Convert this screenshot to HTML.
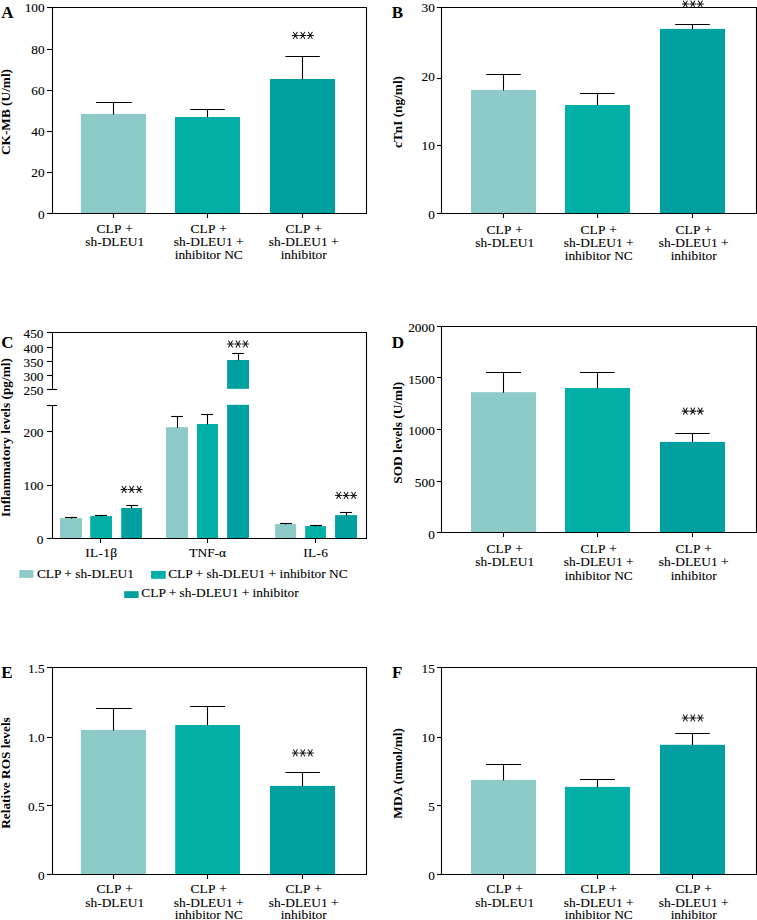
<!DOCTYPE html>
<html><head><meta charset="utf-8"><title>Figure</title>
<style>
html,body{margin:0;padding:0;background:#fff;}
svg{display:block;}
svg text{font-family:"Liberation Serif",serif;fill:#000;stroke:#000;stroke-width:0.12px;}
svg text[font-weight]{stroke:none;}
</style></head>
<body>
<svg width="757" height="920" viewBox="0 0 757 920">
<rect x="0" y="0" width="757" height="920" fill="#ffffff"/>
<rect x="81" y="114" width="65" height="99.5" fill="#8ccbc8"/>
<line x1="113.5" y1="102.5" x2="113.5" y2="114.5" stroke="#000" stroke-width="1.1"/>
<line x1="96" y1="102.5" x2="131.8" y2="102.5" stroke="#000" stroke-width="1.1"/>
<rect x="175" y="117" width="65" height="96.5" fill="#00b0a6"/>
<line x1="207.5" y1="109.5" x2="207.5" y2="117.5" stroke="#000" stroke-width="1.1"/>
<line x1="190.2" y1="109.5" x2="224.8" y2="109.5" stroke="#000" stroke-width="1.1"/>
<rect x="270" y="79" width="65" height="134.5" fill="#00a0a0"/>
<line x1="302.5" y1="56.5" x2="302.5" y2="79.5" stroke="#000" stroke-width="1.1"/>
<line x1="285.4" y1="56.5" x2="319.8" y2="56.5" stroke="#000" stroke-width="1.1"/>
<line x1="52.5" y1="7" x2="52.5" y2="214" stroke="#000" stroke-width="1.1"/>
<line x1="52.5" y1="7.5" x2="366.5" y2="7.5" stroke="#000" stroke-width="1.1"/>
<line x1="366.5" y1="7" x2="366.5" y2="214" stroke="#000" stroke-width="1.1"/>
<line x1="52.5" y1="213.5" x2="366.5" y2="213.5" stroke="#000" stroke-width="1.1"/>
<line x1="47" y1="7.5" x2="52.5" y2="7.5" stroke="#000" stroke-width="1.1"/>
<text x="44.6" y="12.2" font-size="13.3" text-anchor="end">100</text>
<line x1="47" y1="49.5" x2="52.5" y2="49.5" stroke="#000" stroke-width="1.1"/>
<text x="44.6" y="54" font-size="13.3" text-anchor="end">80</text>
<line x1="47" y1="90.5" x2="52.5" y2="90.5" stroke="#000" stroke-width="1.1"/>
<text x="44.6" y="95.1" font-size="13.3" text-anchor="end">60</text>
<line x1="47" y1="131.5" x2="52.5" y2="131.5" stroke="#000" stroke-width="1.1"/>
<text x="44.6" y="135.9" font-size="13.3" text-anchor="end">40</text>
<line x1="47" y1="172.5" x2="52.5" y2="172.5" stroke="#000" stroke-width="1.1"/>
<text x="44.6" y="177" font-size="13.3" text-anchor="end">20</text>
<line x1="47" y1="213.5" x2="52.5" y2="213.5" stroke="#000" stroke-width="1.1"/>
<text x="44.6" y="219.4" font-size="13.3" text-anchor="end">0</text>
<line x1="113.5" y1="213.5" x2="113.5" y2="218" stroke="#000" stroke-width="1.1"/>
<text x="114.7" y="233" font-size="13.4" text-anchor="middle" letter-spacing="0.15" word-spacing="0.6">CLP +</text>
<text x="114.7" y="245.9" font-size="13.4" text-anchor="middle">sh-DLEU1</text>
<line x1="207.5" y1="213.5" x2="207.5" y2="218" stroke="#000" stroke-width="1.1"/>
<text x="208.7" y="233" font-size="13.4" text-anchor="middle" letter-spacing="0.15" word-spacing="0.6">CLP +</text>
<text x="208.7" y="245.9" font-size="13.4" text-anchor="middle">sh-DLEU1 +</text>
<text x="208.7" y="259" font-size="13.4" text-anchor="middle">inhibitor NC</text>
<line x1="302.5" y1="213.5" x2="302.5" y2="218" stroke="#000" stroke-width="1.1"/>
<text x="303.7" y="233" font-size="13.4" text-anchor="middle" letter-spacing="0.15" word-spacing="0.6">CLP +</text>
<text x="303.7" y="245.9" font-size="13.4" text-anchor="middle">sh-DLEU1 +</text>
<text x="303.7" y="259" font-size="13.4" text-anchor="middle">inhibitor</text>
<path d="M292.20 35.40H298.40M293.40 32.30L297.20 38.50M297.20 32.30L293.40 38.50M299.70 35.40H305.90M300.90 32.30L304.70 38.50M304.70 32.30L300.90 38.50M307.20 35.40H313.40M308.40 32.30L312.20 38.50M312.20 32.30L308.40 38.50" stroke="#1a1a1a" stroke-width="1.05" fill="none" stroke-linecap="round"/>
<text x="1.2" y="17.7" font-size="17" text-anchor="start" font-weight="bold">A</text>
<text transform="translate(10.4,112) rotate(-90)" font-size="13.3" text-anchor="middle" font-weight="bold">CK-MB (U/ml)</text>
<rect x="471" y="90" width="65" height="123.5" fill="#8ccbc8"/>
<line x1="503.5" y1="74.5" x2="503.5" y2="90.5" stroke="#000" stroke-width="1.1"/>
<line x1="486.2" y1="74.5" x2="520.8" y2="74.5" stroke="#000" stroke-width="1.1"/>
<rect x="565" y="105" width="65" height="108.5" fill="#00b0a6"/>
<line x1="597.5" y1="93.5" x2="597.5" y2="105.5" stroke="#000" stroke-width="1.1"/>
<line x1="580" y1="93.5" x2="614.8" y2="93.5" stroke="#000" stroke-width="1.1"/>
<rect x="660" y="28.9" width="65" height="184.6" fill="#00a0a0"/>
<line x1="692.5" y1="24.5" x2="692.5" y2="29.4" stroke="#000" stroke-width="1.1"/>
<line x1="675.2" y1="24.5" x2="709.8" y2="24.5" stroke="#000" stroke-width="1.1"/>
<line x1="441.5" y1="7" x2="441.5" y2="214" stroke="#000" stroke-width="1.1"/>
<line x1="441.5" y1="7.5" x2="756.5" y2="7.5" stroke="#000" stroke-width="1.1"/>
<line x1="756.5" y1="7" x2="756.5" y2="214" stroke="#000" stroke-width="1.1"/>
<line x1="441.5" y1="213.5" x2="756.5" y2="213.5" stroke="#000" stroke-width="1.1"/>
<line x1="437" y1="7.5" x2="441.5" y2="7.5" stroke="#000" stroke-width="1.1"/>
<text x="434.8" y="12.1" font-size="13.3" text-anchor="end">30</text>
<line x1="437" y1="78.5" x2="441.5" y2="78.5" stroke="#000" stroke-width="1.1"/>
<text x="434.8" y="80.9" font-size="13.3" text-anchor="end">20</text>
<line x1="437" y1="145.5" x2="441.5" y2="145.5" stroke="#000" stroke-width="1.1"/>
<text x="434.8" y="149.9" font-size="13.3" text-anchor="end">10</text>
<line x1="437" y1="213.5" x2="441.5" y2="213.5" stroke="#000" stroke-width="1.1"/>
<text x="434.8" y="219.1" font-size="13.3" text-anchor="end">0</text>
<line x1="503.5" y1="213.5" x2="503.5" y2="218" stroke="#000" stroke-width="1.1"/>
<text x="504.7" y="234" font-size="13.4" text-anchor="middle" letter-spacing="0.15" word-spacing="0.6">CLP +</text>
<text x="504.7" y="247" font-size="13.4" text-anchor="middle">sh-DLEU1</text>
<line x1="597.5" y1="213.5" x2="597.5" y2="218" stroke="#000" stroke-width="1.1"/>
<text x="598.7" y="234" font-size="13.4" text-anchor="middle" letter-spacing="0.15" word-spacing="0.6">CLP +</text>
<text x="598.7" y="247" font-size="13.4" text-anchor="middle">sh-DLEU1 +</text>
<text x="598.7" y="260" font-size="13.4" text-anchor="middle">inhibitor NC</text>
<line x1="692.5" y1="213.5" x2="692.5" y2="218" stroke="#000" stroke-width="1.1"/>
<text x="693.7" y="234" font-size="13.4" text-anchor="middle" letter-spacing="0.15" word-spacing="0.6">CLP +</text>
<text x="693.7" y="247" font-size="13.4" text-anchor="middle">sh-DLEU1 +</text>
<text x="693.7" y="260" font-size="13.4" text-anchor="middle">inhibitor</text>
<path d="M682.20 4.00H688.40M683.40 0.90L687.20 7.10M687.20 0.90L683.40 7.10M689.70 4.00H695.90M690.90 0.90L694.70 7.10M694.70 0.90L690.90 7.10M697.20 4.00H703.40M698.40 0.90L702.20 7.10M702.20 0.90L698.40 7.10" stroke="#1a1a1a" stroke-width="1.05" fill="none" stroke-linecap="round"/>
<text x="391.8" y="17.7" font-size="17" text-anchor="start" font-weight="bold">B</text>
<text transform="translate(401.5,112) rotate(-90)" font-size="13.3" text-anchor="middle" font-weight="bold">cTnI (ng/ml)</text>
<rect x="471" y="392.2" width="65" height="140.3" fill="#8ccbc8"/>
<line x1="503.5" y1="372.5" x2="503.5" y2="392.7" stroke="#000" stroke-width="1.1"/>
<line x1="486" y1="372.5" x2="521" y2="372.5" stroke="#000" stroke-width="1.1"/>
<rect x="565" y="388" width="65" height="144.5" fill="#00b0a6"/>
<line x1="597.5" y1="372.5" x2="597.5" y2="388.5" stroke="#000" stroke-width="1.1"/>
<line x1="580" y1="372.5" x2="614.8" y2="372.5" stroke="#000" stroke-width="1.1"/>
<rect x="660" y="441.9" width="65" height="90.6" fill="#00a0a0"/>
<line x1="692.5" y1="433.5" x2="692.5" y2="442.4" stroke="#000" stroke-width="1.1"/>
<line x1="675.2" y1="433.5" x2="709.8" y2="433.5" stroke="#000" stroke-width="1.1"/>
<line x1="441.5" y1="326" x2="441.5" y2="533" stroke="#000" stroke-width="1.1"/>
<line x1="441.5" y1="326.5" x2="756.5" y2="326.5" stroke="#000" stroke-width="1.1"/>
<line x1="756.5" y1="326" x2="756.5" y2="533" stroke="#000" stroke-width="1.1"/>
<line x1="441.5" y1="532.5" x2="756.5" y2="532.5" stroke="#000" stroke-width="1.1"/>
<line x1="437" y1="326.5" x2="441.5" y2="326.5" stroke="#000" stroke-width="1.1"/>
<text x="434.8" y="332" font-size="13.3" text-anchor="end">2000</text>
<line x1="437" y1="377.5" x2="441.5" y2="377.5" stroke="#000" stroke-width="1.1"/>
<text x="434.8" y="384.1" font-size="13.3" text-anchor="end">1500</text>
<line x1="437" y1="429.5" x2="441.5" y2="429.5" stroke="#000" stroke-width="1.1"/>
<text x="434.8" y="435.1" font-size="13.3" text-anchor="end">1000</text>
<line x1="437" y1="481.5" x2="441.5" y2="481.5" stroke="#000" stroke-width="1.1"/>
<text x="434.8" y="487.2" font-size="13.3" text-anchor="end">500</text>
<line x1="437" y1="532.5" x2="441.5" y2="532.5" stroke="#000" stroke-width="1.1"/>
<text x="434.8" y="538.8" font-size="13.3" text-anchor="end">0</text>
<line x1="503.5" y1="532.5" x2="503.5" y2="537" stroke="#000" stroke-width="1.1"/>
<text x="504.7" y="552.6" font-size="13.4" text-anchor="middle" letter-spacing="0.15" word-spacing="0.6">CLP +</text>
<text x="504.7" y="566" font-size="13.4" text-anchor="middle">sh-DLEU1</text>
<line x1="597.5" y1="532.5" x2="597.5" y2="537" stroke="#000" stroke-width="1.1"/>
<text x="598.7" y="552.6" font-size="13.4" text-anchor="middle" letter-spacing="0.15" word-spacing="0.6">CLP +</text>
<text x="598.7" y="566" font-size="13.4" text-anchor="middle">sh-DLEU1 +</text>
<text x="598.7" y="579.9" font-size="13.4" text-anchor="middle">inhibitor NC</text>
<line x1="692.5" y1="532.5" x2="692.5" y2="537" stroke="#000" stroke-width="1.1"/>
<text x="693.7" y="552.6" font-size="13.4" text-anchor="middle" letter-spacing="0.15" word-spacing="0.6">CLP +</text>
<text x="693.7" y="566" font-size="13.4" text-anchor="middle">sh-DLEU1 +</text>
<text x="693.7" y="579.9" font-size="13.4" text-anchor="middle">inhibitor</text>
<path d="M682.20 411.10H688.40M683.40 408.00L687.20 414.20M687.20 408.00L683.40 414.20M689.70 411.10H695.90M690.90 408.00L694.70 414.20M694.70 408.00L690.90 414.20M697.20 411.10H703.40M698.40 408.00L702.20 414.20M702.20 408.00L698.40 414.20" stroke="#1a1a1a" stroke-width="1.05" fill="none" stroke-linecap="round"/>
<text x="391.8" y="347.5" font-size="17" text-anchor="start" font-weight="bold">D</text>
<text transform="translate(401.5,432.7) rotate(-90)" font-size="13.3" text-anchor="middle" font-weight="bold">SOD levels (U/ml)</text>
<rect x="81" y="730" width="65" height="144.5" fill="#8ccbc8"/>
<line x1="113.5" y1="708.5" x2="113.5" y2="730.5" stroke="#000" stroke-width="1.1"/>
<line x1="96.2" y1="708.5" x2="131.8" y2="708.5" stroke="#000" stroke-width="1.1"/>
<rect x="175.2" y="725" width="64.8" height="149.5" fill="#00b0a6"/>
<line x1="207.5" y1="706.5" x2="207.5" y2="725.5" stroke="#000" stroke-width="1.1"/>
<line x1="190" y1="706.5" x2="225" y2="706.5" stroke="#000" stroke-width="1.1"/>
<rect x="270" y="785.9" width="65" height="88.6" fill="#00a0a0"/>
<line x1="302.5" y1="772.5" x2="302.5" y2="786.4" stroke="#000" stroke-width="1.1"/>
<line x1="285.4" y1="772.5" x2="319.8" y2="772.5" stroke="#000" stroke-width="1.1"/>
<line x1="52.5" y1="667" x2="52.5" y2="875" stroke="#000" stroke-width="1.1"/>
<line x1="52.5" y1="667.5" x2="366.5" y2="667.5" stroke="#000" stroke-width="1.1"/>
<line x1="366.5" y1="667" x2="366.5" y2="875" stroke="#000" stroke-width="1.1"/>
<line x1="52.5" y1="874.5" x2="366.5" y2="874.5" stroke="#000" stroke-width="1.1"/>
<line x1="47" y1="667.5" x2="52.5" y2="667.5" stroke="#000" stroke-width="1.1"/>
<text x="44.6" y="672.8" font-size="13.3" text-anchor="end">1.5</text>
<line x1="47" y1="737.5" x2="52.5" y2="737.5" stroke="#000" stroke-width="1.1"/>
<text x="44.6" y="741.9" font-size="13.3" text-anchor="end">1.0</text>
<line x1="47" y1="805.5" x2="52.5" y2="805.5" stroke="#000" stroke-width="1.1"/>
<text x="44.6" y="810.9" font-size="13.3" text-anchor="end">0.5</text>
<line x1="47" y1="874.5" x2="52.5" y2="874.5" stroke="#000" stroke-width="1.1"/>
<text x="44.6" y="880" font-size="13.3" text-anchor="end">0</text>
<line x1="113.5" y1="874.5" x2="113.5" y2="879" stroke="#000" stroke-width="1.1"/>
<text x="114.7" y="892.8" font-size="13.4" text-anchor="middle" letter-spacing="0.15" word-spacing="0.6">CLP +</text>
<text x="114.7" y="906.6" font-size="13.4" text-anchor="middle">sh-DLEU1</text>
<line x1="207.5" y1="874.5" x2="207.5" y2="879" stroke="#000" stroke-width="1.1"/>
<text x="208.7" y="892.8" font-size="13.4" text-anchor="middle" letter-spacing="0.15" word-spacing="0.6">CLP +</text>
<text x="208.7" y="906.6" font-size="13.4" text-anchor="middle">sh-DLEU1 +</text>
<text x="208.7" y="919.1" font-size="13.4" text-anchor="middle">inhibitor NC</text>
<line x1="302.5" y1="874.5" x2="302.5" y2="879" stroke="#000" stroke-width="1.1"/>
<text x="303.7" y="892.8" font-size="13.4" text-anchor="middle" letter-spacing="0.15" word-spacing="0.6">CLP +</text>
<text x="303.7" y="906.6" font-size="13.4" text-anchor="middle">sh-DLEU1 +</text>
<text x="303.7" y="919.1" font-size="13.4" text-anchor="middle">inhibitor</text>
<path d="M292.20 752.90H298.40M293.40 749.80L297.20 756.00M297.20 749.80L293.40 756.00M299.70 752.90H305.90M300.90 749.80L304.70 756.00M304.70 749.80L300.90 756.00M307.20 752.90H313.40M308.40 749.80L312.20 756.00M312.20 749.80L308.40 756.00" stroke="#1a1a1a" stroke-width="1.05" fill="none" stroke-linecap="round"/>
<text x="1.2" y="677.5" font-size="17" text-anchor="start" font-weight="bold">E</text>
<text transform="translate(10.4,773) rotate(-90)" font-size="13.3" text-anchor="middle" font-weight="bold">Relative ROS levels</text>
<rect x="471" y="779.9" width="65" height="94.6" fill="#8ccbc8"/>
<line x1="503.5" y1="764.5" x2="503.5" y2="780.4" stroke="#000" stroke-width="1.1"/>
<line x1="486" y1="764.5" x2="521" y2="764.5" stroke="#000" stroke-width="1.1"/>
<rect x="565" y="786.9" width="65" height="87.6" fill="#00b0a6"/>
<line x1="597.5" y1="779.5" x2="597.5" y2="787.4" stroke="#000" stroke-width="1.1"/>
<line x1="580" y1="779.5" x2="615" y2="779.5" stroke="#000" stroke-width="1.1"/>
<rect x="660" y="744.8" width="65" height="129.7" fill="#00a0a0"/>
<line x1="692.5" y1="733.5" x2="692.5" y2="745.3" stroke="#000" stroke-width="1.1"/>
<line x1="675.2" y1="733.5" x2="709.8" y2="733.5" stroke="#000" stroke-width="1.1"/>
<line x1="441.5" y1="667" x2="441.5" y2="875" stroke="#000" stroke-width="1.1"/>
<line x1="441.5" y1="667.5" x2="756.5" y2="667.5" stroke="#000" stroke-width="1.1"/>
<line x1="756.5" y1="667" x2="756.5" y2="875" stroke="#000" stroke-width="1.1"/>
<line x1="441.5" y1="874.5" x2="756.5" y2="874.5" stroke="#000" stroke-width="1.1"/>
<line x1="437" y1="667.5" x2="441.5" y2="667.5" stroke="#000" stroke-width="1.1"/>
<text x="434.8" y="672.8" font-size="13.3" text-anchor="end">15</text>
<line x1="437" y1="737.5" x2="441.5" y2="737.5" stroke="#000" stroke-width="1.1"/>
<text x="434.8" y="742" font-size="13.3" text-anchor="end">10</text>
<line x1="437" y1="805.5" x2="441.5" y2="805.5" stroke="#000" stroke-width="1.1"/>
<text x="434.8" y="810.8" font-size="13.3" text-anchor="end">5</text>
<line x1="437" y1="874.5" x2="441.5" y2="874.5" stroke="#000" stroke-width="1.1"/>
<text x="434.8" y="880" font-size="13.3" text-anchor="end">0</text>
<line x1="503.5" y1="874.5" x2="503.5" y2="879" stroke="#000" stroke-width="1.1"/>
<text x="504.7" y="892.8" font-size="13.4" text-anchor="middle" letter-spacing="0.15" word-spacing="0.6">CLP +</text>
<text x="504.7" y="906.6" font-size="13.4" text-anchor="middle">sh-DLEU1</text>
<line x1="597.5" y1="874.5" x2="597.5" y2="879" stroke="#000" stroke-width="1.1"/>
<text x="598.7" y="892.8" font-size="13.4" text-anchor="middle" letter-spacing="0.15" word-spacing="0.6">CLP +</text>
<text x="598.7" y="906.6" font-size="13.4" text-anchor="middle">sh-DLEU1 +</text>
<text x="598.7" y="919.1" font-size="13.4" text-anchor="middle">inhibitor NC</text>
<line x1="692.5" y1="874.5" x2="692.5" y2="879" stroke="#000" stroke-width="1.1"/>
<text x="693.7" y="892.8" font-size="13.4" text-anchor="middle" letter-spacing="0.15" word-spacing="0.6">CLP +</text>
<text x="693.7" y="906.6" font-size="13.4" text-anchor="middle">sh-DLEU1 +</text>
<text x="693.7" y="919.1" font-size="13.4" text-anchor="middle">inhibitor</text>
<path d="M682.20 718.00H688.40M683.40 714.90L687.20 721.10M687.20 714.90L683.40 721.10M689.70 718.00H695.90M690.90 714.90L694.70 721.10M694.70 714.90L690.90 721.10M697.20 718.00H703.40M698.40 714.90L702.20 721.10M702.20 714.90L698.40 721.10" stroke="#1a1a1a" stroke-width="1.05" fill="none" stroke-linecap="round"/>
<text x="392" y="677.5" font-size="17" text-anchor="start" font-weight="bold">F</text>
<text transform="translate(401.5,773.4) rotate(-90)" font-size="13.3" text-anchor="middle" font-weight="bold">MDA (nmol/ml)</text>
<rect x="60" y="518.1" width="22" height="20.4" fill="#8ccbc8"/>
<line x1="71.5" y1="517.5" x2="71.5" y2="518.6" stroke="#000" stroke-width="1.1"/>
<line x1="65" y1="517.5" x2="77" y2="517.5" stroke="#000" stroke-width="1.1"/>
<rect x="90.2" y="516.1" width="21.8" height="22.4" fill="#00b0a6"/>
<line x1="101.5" y1="515.5" x2="101.5" y2="516.6" stroke="#000" stroke-width="1.1"/>
<line x1="95" y1="515.5" x2="107" y2="515.5" stroke="#000" stroke-width="1.1"/>
<rect x="121.2" y="508" width="20.8" height="30.5" fill="#00a0a0"/>
<line x1="131.5" y1="505.5" x2="131.5" y2="508.5" stroke="#000" stroke-width="1.1"/>
<line x1="126.3" y1="505.5" x2="137.9" y2="505.5" stroke="#000" stroke-width="1.1"/>
<rect x="166" y="427.2" width="22" height="111.3" fill="#8ccbc8"/>
<line x1="177.5" y1="416.5" x2="177.5" y2="427.7" stroke="#000" stroke-width="1.1"/>
<line x1="171.2" y1="416.5" x2="183" y2="416.5" stroke="#000" stroke-width="1.1"/>
<rect x="197" y="424" width="21" height="114.5" fill="#00b0a6"/>
<line x1="207.5" y1="414.5" x2="207.5" y2="424.5" stroke="#000" stroke-width="1.1"/>
<line x1="201" y1="414.5" x2="213" y2="414.5" stroke="#000" stroke-width="1.1"/>
<rect x="227.1" y="360" width="21.9" height="28.8" fill="#00a0a0"/>
<rect x="227.1" y="404.8" width="21.9" height="133.7" fill="#00a0a0"/>
<line x1="238.5" y1="353.5" x2="238.5" y2="360.5" stroke="#000" stroke-width="1.1"/>
<line x1="232.2" y1="353.5" x2="243.8" y2="353.5" stroke="#000" stroke-width="1.1"/>
<rect x="275.1" y="524.1" width="20.9" height="14.4" fill="#8ccbc8"/>
<line x1="285.5" y1="523.5" x2="285.5" y2="524.6" stroke="#000" stroke-width="1.1"/>
<line x1="280" y1="523.5" x2="292" y2="523.5" stroke="#000" stroke-width="1.1"/>
<rect x="305.2" y="526.1" width="20.8" height="12.4" fill="#00b0a6"/>
<line x1="315.5" y1="525.5" x2="315.5" y2="526.6" stroke="#000" stroke-width="1.1"/>
<line x1="310" y1="525.5" x2="322" y2="525.5" stroke="#000" stroke-width="1.1"/>
<rect x="335.1" y="515.1" width="21.9" height="23.4" fill="#00a0a0"/>
<line x1="346.5" y1="512.5" x2="346.5" y2="515.6" stroke="#000" stroke-width="1.1"/>
<line x1="340.1" y1="512.5" x2="352" y2="512.5" stroke="#000" stroke-width="1.1"/>
<line x1="52.5" y1="332" x2="52.5" y2="390" stroke="#000" stroke-width="1.1"/>
<line x1="52.5" y1="405" x2="52.5" y2="539" stroke="#000" stroke-width="1.1"/>
<line x1="52.5" y1="332.5" x2="366.5" y2="332.5" stroke="#000" stroke-width="1.1"/>
<line x1="366.5" y1="332" x2="366.5" y2="539" stroke="#000" stroke-width="1.1"/>
<line x1="52.5" y1="538.5" x2="366.5" y2="538.5" stroke="#000" stroke-width="1.1"/>
<line x1="47" y1="332.5" x2="52.5" y2="332.5" stroke="#000" stroke-width="1.1"/>
<text x="43.5" y="338.1" font-size="13.3" text-anchor="end">450</text>
<line x1="47" y1="347.5" x2="52.5" y2="347.5" stroke="#000" stroke-width="1.1"/>
<text x="43.5" y="352.9" font-size="13.3" text-anchor="end">400</text>
<line x1="47" y1="361.5" x2="52.5" y2="361.5" stroke="#000" stroke-width="1.1"/>
<text x="43.5" y="367" font-size="13.3" text-anchor="end">350</text>
<line x1="47" y1="375.5" x2="52.5" y2="375.5" stroke="#000" stroke-width="1.1"/>
<text x="43.5" y="381.1" font-size="13.3" text-anchor="end">300</text>
<line x1="47" y1="389.5" x2="52.5" y2="389.5" stroke="#000" stroke-width="1.1"/>
<text x="43.5" y="395.1" font-size="13.3" text-anchor="end">250</text>
<line x1="47" y1="431.5" x2="52.5" y2="431.5" stroke="#000" stroke-width="1.1"/>
<text x="43.5" y="437" font-size="13.3" text-anchor="end">200</text>
<line x1="47" y1="485.5" x2="52.5" y2="485.5" stroke="#000" stroke-width="1.1"/>
<text x="43.5" y="490" font-size="13.3" text-anchor="end">100</text>
<line x1="47" y1="538.5" x2="52.5" y2="538.5" stroke="#000" stroke-width="1.1"/>
<text x="43.5" y="544" font-size="13.3" text-anchor="end">0</text>
<line x1="52.5" y1="389.5" x2="57" y2="389.5" stroke="#000" stroke-width="1.1"/>
<line x1="47" y1="405.5" x2="57" y2="405.5" stroke="#000" stroke-width="1.1"/>
<line x1="100.5" y1="538.5" x2="100.5" y2="543" stroke="#000" stroke-width="1.1"/>
<text x="101.2" y="557.1" font-size="13.4" text-anchor="middle" letter-spacing="0.3">IL-1β</text>
<line x1="207.5" y1="538.5" x2="207.5" y2="543" stroke="#000" stroke-width="1.1"/>
<text x="207.7" y="557.1" font-size="13.4" text-anchor="middle" letter-spacing="0">TNF-α</text>
<line x1="315.5" y1="538.5" x2="315.5" y2="543" stroke="#000" stroke-width="1.1"/>
<text x="315.8" y="557.1" font-size="13.4" text-anchor="middle" letter-spacing="0.3">IL-6</text>
<path d="M121.00 489.40H127.20M122.20 486.30L126.00 492.50M126.00 486.30L122.20 492.50M128.50 489.40H134.70M129.70 486.30L133.50 492.50M133.50 486.30L129.70 492.50M136.00 489.40H142.20M137.20 486.30L141.00 492.50M141.00 486.30L137.20 492.50" stroke="#1a1a1a" stroke-width="1.05" fill="none" stroke-linecap="round"/>
<path d="M227.40 344.00H233.60M228.60 340.90L232.40 347.10M232.40 340.90L228.60 347.10M234.90 344.00H241.10M236.10 340.90L239.90 347.10M239.90 340.90L236.10 347.10M242.40 344.00H248.60M243.60 340.90L247.40 347.10M247.40 340.90L243.60 347.10" stroke="#1a1a1a" stroke-width="1.05" fill="none" stroke-linecap="round"/>
<path d="M335.50 495.40H341.70M336.70 492.30L340.50 498.50M340.50 492.30L336.70 498.50M343.00 495.40H349.20M344.20 492.30L348.00 498.50M348.00 492.30L344.20 498.50M350.50 495.40H356.70M351.70 492.30L355.50 498.50M355.50 492.30L351.70 498.50" stroke="#1a1a1a" stroke-width="1.05" fill="none" stroke-linecap="round"/>
<text x="1.2" y="347.5" font-size="17" text-anchor="start" font-weight="bold">C</text>
<text transform="translate(10.4,437.5) rotate(-90)" font-size="13.3" text-anchor="middle" font-weight="bold">Inflammatory levels (pg/ml)</text>
<rect x="19.3" y="570.1" width="14.1" height="7.8" fill="#8ccbc8"/>
<text x="36.9" y="577.9" font-size="13.4" text-anchor="start">CLP + sh-DLEU1</text>
<rect x="151.1" y="570.9" width="14.6" height="7.9" fill="#00b0a6"/>
<text x="168.2" y="577.9" font-size="13.4" text-anchor="start">CLP + sh-DLEU1 + inhibitor NC</text>
<rect x="124.2" y="591.2" width="14.4" height="6.8" fill="#00a0a0"/>
<text x="141.3" y="597.2" font-size="13.4" text-anchor="start">CLP + sh-DLEU1 + inhibitor</text>
</svg>
</body></html>
